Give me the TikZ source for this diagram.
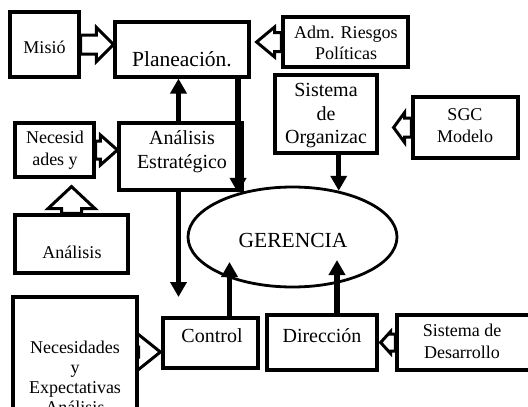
\documentclass[tikz,border=0pt]{standalone}
\usepackage{fontspec}
\setmainfont{Liberation Serif}
\usetikzlibrary{arrows.meta,calc,shapes.geometric}

\tikzset{
  caja/.style 2 args={draw, line width=3.2pt, fill=white, inner sep=0pt,
    minimum width=#1pt, minimum height=#2pt},
  bloque/.style={draw, line width=3pt, fill=white, line join=miter},
  flecha/.style={line width=5.5pt, -{Triangle[width=16pt,length=15pt]}},
  texto/.style={align=center, inner sep=0pt, font=\fontsize{18}{21.5}\selectfont},
  textog/.style={align=center, inner sep=0pt, font=\fontsize{20}{23.5}\selectfont},
  textot/.style={align=center, inner sep=0pt, font=\fontsize{21.5}{25}\selectfont}
}

\newcommand{\flechabloque}[5]{%
  \path (#1) coordinate (fb-s) (#2) coordinate (fb-t);
  \coordinate (fb-h) at ($(fb-t)!#5!(fb-s)$);
  \draw[bloque] ($(fb-s)!#3!90:(fb-t)$) -- ($(fb-h)!#3!90:(fb-t)$)
    -- ($(fb-h)!#4!90:(fb-t)$) -- (fb-t) -- ($(fb-h)!#4!-90:(fb-t)$)
    -- ($(fb-h)!#3!-90:(fb-t)$) -- ($(fb-s)!#3!-90:(fb-t)$) -- cycle;
}

\begin{document}
\begin{tikzpicture}[x=1pt,y=-1pt]
\useasboundingbox (0,0) rectangle (528,407);
\clip (0,0) rectangle (528,407);
\fill[white] (0,0) rectangle (528,407);

\coordinate (Ctl) at (229.5,262);
\coordinate (Dir-in) at (337,260);
\coordinate (Baja) at (178.5,297);
\coordinate (Eje) at (178.5,0);

\node[caja={69}{65}] (Mision) at (44.5,44.5) {};
\node[caja={134}{55}] (Plan) at (182,49.5) {};
\node[caja={125}{50}] (Riesgos) at (345.5,42) {};
\node[caja={102}{78}] (SisOrg) at (326,114) {};
\node[caja={105}{61}] (SGC) at (465.5,127.5) {};
\node[caja={79}{54}] (Necesid) at (54.5,150) {};
\node[caja={123}{67}] (AnalEst) at (180.5,156.5) {};
\node[caja={113}{58}] (Analisis) at (71.5,244) {};
\node[caja={95}{50}] (Control) at (210.5,343) {};
\node[caja={110}{55}] (Dir) at (322,342.5) {};
\node[caja={143}{55}] (SisDes) at (468.5,342.5) {};
\node[caja={124}{143}] (NecExp) at (75,368.5) {};

\flechabloque{Mision.east}{Plan.west |- Mision.east}{9.5pt}{17pt}{17pt}
\flechabloque{Riesgos.west}{$(Plan.east |- Riesgos.west)+(6,0)$}{9.5pt}{15pt}{18pt}
\flechabloque{SGC.west}{$(SisOrg.east |- SGC.west)+(15,0)$}{9.5pt}{15pt}{11pt}
\flechabloque{Necesid.east}{AnalEst.west |- Necesid.east}{9pt}{15pt}{17pt}
\flechabloque{Analisis.north}{$(Necesid.south -| Analisis.north)+(0,8)$}{10pt}{23.5pt}{22pt}
\flechabloque{$(NecExp.east |- Control.west)+(0,9)$}{$(Control.west)+(-1,9)$}{5pt}{20pt}{25pt}
\flechabloque{SisDes.west}{$(Dir.east)+(2,0)$}{8.5pt}{11pt}{10pt}

\node[caja={69}{65}] at (Mision) {};
\node[caja={134}{55}] at (Plan) {};
\node[caja={125}{50}] at (Riesgos) {};
\node[caja={102}{78}] at (SisOrg) {};
\node[caja={105}{61}] at (SGC) {};
\node[caja={79}{54}] at (Necesid) {};
\node[caja={123}{67}] at (AnalEst) {};
\node[caja={113}{58}] at (Analisis) {};
\node[caja={95}{50}] at (Control) {};
\node[caja={110}{55}] at (Dir) {};
\node[caja={143}{55}] at (SisDes) {};
\node[caja={124}{143}] at (NecExp) {};

\node[draw, ellipse, line width=2.8pt, fill=white, inner sep=0pt,
  minimum width=209pt, minimum height=100pt] (Ger) at (292.5,237) {};

\node[texto] (tMision) at (44.5,47) {Misió};
\node[textot] (tPlan) at (182,59) {Planeación.};
\node[texto] (tRiesgos) at (346,43) {Adm. Riesgos\\Políticas};
\node[textog] (tSisOrg) at (326,116) {Sistema\\de\\Organizac};
\node[texto] (tSGC) at (465,125.5) {SGC\\Modelo};
\node[texto] (tNecesid) at (55,150) {Necesid\\ades y};
\node[textog] (tAnalEst) at (182,151.5) {Análisis\\Estratégico};
\node[texto] (tAnalisis) at (72,252) {Análisis};
\node[textot] (tGer) at (293,240) {GERENCIA};
\node[textog] (tControl) at (212,336) {Control};
\node[textog] (tDir) at (322,336) {Dirección};
\node[texto] (tSisDes) at (462,341.5) {Sistema de\\Desarrollo};
\node[texto, font=\fontsize{18}{20}\selectfont] (tNecExp) at (75,377)
  {Necesidades\\y\\Expectativas\\Análisis};

\draw[flecha] (AnalEst.north -| Eje) -- (Plan.south -| Eje);
\draw[flecha] (AnalEst.south -| Eje) -- (Baja);
\draw[flecha] (Plan.south -| Ger.141) -- (Ger.141);
\draw[flecha] (SisOrg.south -| Ger.45) -- (Ger.45);
\draw[flecha] (Control.north -| Ctl) -- (Ctl);
\draw[flecha] (Dir.north -| Dir-in) -- (Dir-in);
\end{tikzpicture}
\end{document}
